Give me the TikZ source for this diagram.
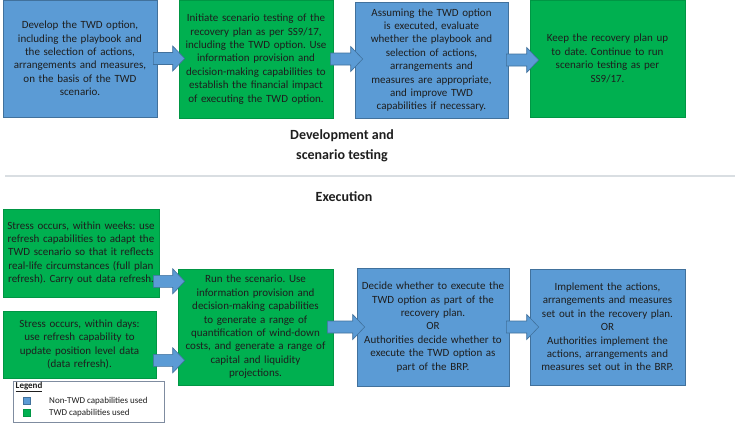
\documentclass[tikz,border=0pt]{standalone}
\usepackage{fontspec}
\setmainfont{Carlito}
\usetikzlibrary{calc}
\frenchspacing
\definecolor{bfill}{RGB}{91,155,213}
\definecolor{bdraw}{RGB}{65,113,156}
\definecolor{gfill}{RGB}{0,176,80}
\definecolor{gdraw}{RGB}{0,150,68}
\definecolor{sepline}{RGB}{217,222,226}
\definecolor{legdraw}{RGB}{127,140,160}
\definecolor{txtc}{RGB}{30,30,30}
\tikzset{
  txt/.style={font=\fontsize{11}{13.4}\selectfont, align=center, text width=150pt, inner sep=0pt, text=txtc},
  bluebox/.style={txt, fill=bfill, draw=bdraw, line width=0.6pt},
  greenbox/.style={txt, fill=gfill, draw=gdraw, line width=0.6pt},
  blockarrow/.style={fill=bfill, draw=bdraw, line width=0.6pt, line join=miter},
  heading/.style={font=\fontsize{14}{20}\selectfont\bfseries, align=center, inner sep=0pt, text=txtc},
  legsq/.style={minimum size=7pt, inner sep=0pt, line width=0.5pt},
  legtxt/.style={font=\fontsize{9}{11}\selectfont, inner sep=0pt, anchor=west, text=txtc}
}
\newcommand{\blockarr}[2]{%
  \draw[blockarrow] let \p1=#1, \p2=#2 in
    (\x1,\y1+6pt) -- (\x2-12pt,\y1+6pt) -- (\x2-12pt,\y1+12.5pt) -- (\x2,\y1)
    -- (\x2-12pt,\y1-12.5pt) -- (\x2-12pt,\y1-6pt) -- (\x1,\y1-6pt) -- cycle;}
\begin{document}
\begin{tikzpicture}[x=1pt,y=-1pt]
\useasboundingbox[fill=white] (0,0) rectangle (735,424);

% top row
\node[bluebox, minimum width=154pt, minimum height=117pt] (b1) at (80,58.5)
  {Develop the TWD option,\\including the playbook and\\the selection of actions,\\arrangements and measures,\\on the basis of the TWD\\scenario.};
\node[greenbox, minimum width=154pt, minimum height=118pt] (b2) at (256,59)
  {Initiate scenario testing of the\\recovery plan as per SS9/17,\\including the TWD option. Use\\information provision and\\decision-making capabilities to\\establish the financial impact\\of executing the TWD option.};
\node[bluebox, minimum width=153pt, minimum height=116pt] (b3) at (431.5,60)
  {Assuming the TWD option\\is executed, evaluate\\whether the playbook and\\selection of actions,\\arrangements and\\measures are appropriate,\\and improve TWD\\capabilities if necessary.};
\node[greenbox, minimum width=155pt, minimum height=117pt] (b4) at (607.5,58.5)
  {Keep the recovery plan up\\to date. Continue to run\\scenario testing as per\\SS9/17.};

\blockarr{($(b1.east)+(-4,0)$)}{($(b2.west)+(6,0)$)}
\blockarr{($(b2.east)+(-3,0)$)}{($(b3.west)+(8,0)$)}
\blockarr{($(b3.east)+(-2,0)$)}{($(b4.west)+(9,0)$)}

% headings and separator
\node[heading] (h1) at (342,146) {Development and\\scenario testing};
\coordinate (sepL) at (5,176);
\coordinate (sepR) at (735,176);
\draw[sepline, line width=1.2pt] (sepL) -- (sepR);
\node[heading] (h2) at (344,197) {Execution};

% bottom
\node[greenbox, minimum width=156pt, minimum height=88pt] (b5) at (81,253)
  {Stress occurs, within weeks: use\\refresh capabilities to adapt the\\TWD scenario so that it reflects\\real-life circumstances (full plan\\refresh). Carry out data refresh.};
\node[greenbox, minimum width=153pt, minimum height=67pt] (b6) at (79.5,344.5)
  {Stress occurs, within days:\\use refresh capability to\\update position level data\\{}(data refresh).};
\node[greenbox, minimum width=155pt, minimum height=116pt] (b7) at (255.5,327)
  {Run the scenario. Use\\information provision and\\decision-making capabilities\\to generate a range of\\quantification of wind-down\\costs, and generate a range of\\capital and liquidity\\projections.};
\node[bluebox, minimum width=152pt, minimum height=118pt] (b8) at (433,327)
  {Decide whether to execute the\\TWD option as part of the\\recovery plan.\\OR\\Authorities decide whether to\\execute the TWD option as\\part of the BRP.};
\node[bluebox, minimum width=155pt, minimum height=116pt] (b9) at (607.5,327)
  {Implement the actions,\\arrangements and measures\\set out in the recovery plan.\\OR\\Authorities implement the\\actions, arrangements and\\measures set out in the BRP.};

\blockarr{($(b5.south east)+(-6,-16)$)}{($(b7.west)+(7,0)$)}
\blockarr{($(b6.south east)+(-3,-18)$)}{($(b7.west)+(7,0)$)}
\blockarr{($(b7.east)+(-6,0)$)}{($(b8.west)+(8,0)$)}
\blockarr{($(b8.east)+(-3,0)$)}{($(b9.west)+(9,0)$)}

% legend
\node[draw=legdraw, fill=white, line width=0.6pt, minimum width=151pt, minimum height=41pt, inner sep=0pt] (leg) at (88.5,401.5) {};
\node[legtxt, font=\fontsize{9}{11}\selectfont\bfseries] (legt) at (15.5,387) {\underline{Legend}};
\node[legsq, fill=bfill, draw=bdraw] (sq1) at (27,400.5) {};
\node[legtxt] (l1) at (49,401.5) {Non-TWD capabilities used};
\node[legsq, fill=gfill, draw=gdraw] (sq2) at (27,412.5) {};
\node[legtxt] (l2) at (49,413) {TWD capabilities used};
\end{tikzpicture}
\end{document}
